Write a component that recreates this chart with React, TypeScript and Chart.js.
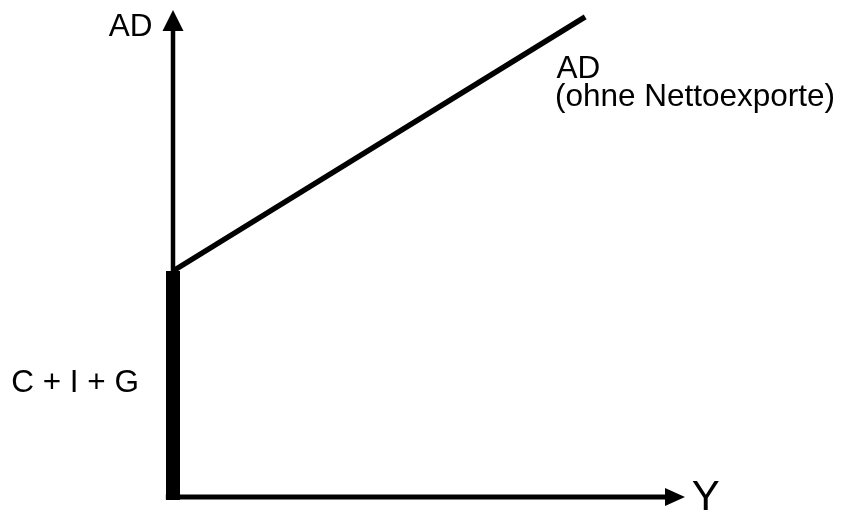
import { useEffect, useRef } from "react";
import { Chart, registerables } from "chart.js";

Chart.register(...registerables);

// Data (in chart units: x 0..100, y 0..100)
const yAxisLine = [
  { x: 0, y: 0 },
  { x: 0, y: 95.9 },
];
const xAxisLine = [
  { x: -1.4, y: 0 },
  { x: 96.1, y: 0 },
];
const cigBar = [
  { x: 0, y: -0.6 },
  { x: 0, y: 46.4 },
];
const adCurve = [
  { x: 0, y: 46.4 },
  { x: 80.5, y: 98.6 },
];
const axisMax = [100, 100];

const yAxisTitle = "AD";
const xAxisTitle = "Y";
const curveLabel = ["AD", "(ohne Nettoexporte)"];
const interceptLabel = "C + I + G";

const FONT = '"Liberation Sans", Arial, Helvetica, sans-serif';

const drawingPlugin = {
  id: "adDrawing",
  afterDatasetsDraw(chart: any) {
    const ctx = chart.ctx as CanvasRenderingContext2D;
    const xs = chart.scales.x;
    const ys = chart.scales.y;
    const px = (v: number) => xs.getPixelForValue(v);
    const py = (v: number) => ys.getPixelForValue(v);
    ctx.save();
    ctx.fillStyle = "#000";

    // arrowhead on Y axis
    const tipY = py(axisMax[1]);
    const ax = px(0);
    ctx.beginPath();
    ctx.moveTo(ax, tipY);
    ctx.lineTo(ax - 10.5, tipY + 21);
    ctx.lineTo(ax + 10.5, tipY + 21);
    ctx.closePath();
    ctx.fill();

    // arrowhead on X axis
    const tipX = px(axisMax[0]);
    const ay = py(0);
    ctx.beginPath();
    ctx.moveTo(tipX, ay);
    ctx.lineTo(tipX - 20, ay - 9);
    ctx.lineTo(tipX - 20, ay + 9);
    ctx.closePath();
    ctx.fill();

    // labels
    ctx.textBaseline = "alphabetic";
    ctx.font = `31.5px ${FONT}`;
    ctx.textAlign = "right";
    ctx.fillText(yAxisTitle, px(-4.0), py(94.6));

    ctx.textAlign = "left";
    ctx.fillText(curveLabel[0], px(74.9), py(86.0));
    ctx.fillText(curveLabel[1], px(74.6), py(80.3));
    ctx.fillText(interceptLabel, px(-31.6), py(21.6));

    ctx.font = `42px ${FONT}`;
    ctx.fillText(xAxisTitle, px(101.3), py(-2.7));
    ctx.restore();
  },
};

export default function App() {
  const ref = useRef<HTMLCanvasElement | null>(null);

  useEffect(() => {
    if (!ref.current) return;
    const common = {
      borderColor: "#000",
      backgroundColor: "#000",
      pointRadius: 0,
      pointHoverRadius: 0,
      fill: false,
      tension: 0,
      clip: false as any,
      borderCapStyle: "butt" as const,
    };
    const chart = new Chart(ref.current, {
      type: "line",
      data: {
        datasets: [
          { ...common, label: "Y-Achse", data: yAxisLine, borderWidth: 4.5 },
          { ...common, label: "X-Achse", data: xAxisLine, borderWidth: 5 },
          { ...common, label: "C + I + G", data: cigBar, borderWidth: 14 },
          { ...common, label: "AD", data: adCurve, borderWidth: 5.5 },
        ],
      },
      options: {
        animation: false,
        responsive: false,
        devicePixelRatio: 1,
        events: [],
        layout: { padding: { left: 173, right: 158, top: 10, bottom: 13 } },
        scales: {
          x: { type: "linear", min: 0, max: 100, display: false },
          y: { type: "linear", min: 0, max: 100, display: false },
        },
        plugins: {
          legend: { display: false },
          tooltip: { enabled: false },
          title: { display: false },
        },
      },
      plugins: [drawingPlugin],
    });
    return () => chart.destroy();
  }, []);

  return (
    <div style={{ position: "fixed", left: 0, top: 0, width: 843, height: 510, background: "#fff" }}>
      <canvas ref={ref} width={843} height={510} style={{ display: "block", width: 843, height: 510 }} />
    </div>
  );
}
